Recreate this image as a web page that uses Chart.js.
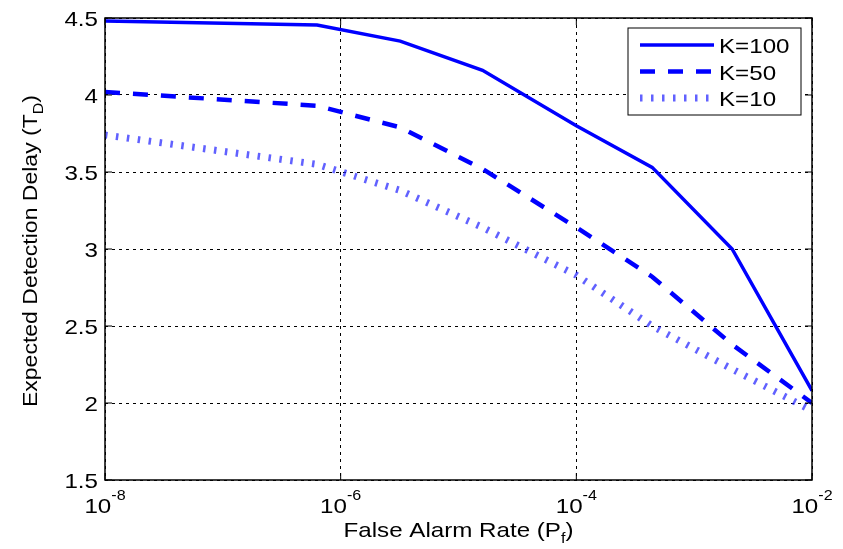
<!DOCTYPE html>
<html>
<head>
<meta charset="utf-8">
<script src="https://cdn.jsdelivr.net/npm/chart.js@4"></script>
<style>
  html, body { margin: 0; padding: 0; background: #fff; }
  #wrap { width: 843px; height: 549px; }
</style>
</head>
<body>
<div id="wrap"><canvas id="chartDelay"></canvas></div>
<script>
// values
const pfValues = [1e-8, 6.3e-7, 3.2e-6, 1.6e-5, 1e-4, 4.4e-4, 2.1e-3, 1e-2];
const delayK100 = [4.48, 4.455, 4.35, 4.16, 3.80, 3.53, 3.00, 2.08];
const delayK50 = [4.02, 3.93, 3.79, 3.52, 3.14, 2.82, 2.38, 2.00];
const delayK10 = [3.74, 3.55, 3.38, 3.14, 2.83, 2.50, 2.22, 1.95];
const xTickValues = [1e-8, 1e-6, 1e-4, 1e-2];
const xTickExps = ['-8', '-6', '-4', '-2'];
const yTickValues = [1.5, 2, 2.5, 3, 3.5, 4, 4.5];
const seriesLabels = ['K=100', 'K=50', 'K=10'];

const FONT = "'Liberation Sans', Arial, sans-serif";
const STRETCH = 1.15;   // text in the figure is a bit wider than Arial
const BIG = 21, SMALL = 14;

function toPoints(ys) {
    return pfValues.map((x, i) => ({ x: x, y: ys[i] }));
}

function textW(ctx, s, size) {
    ctx.font = size + 'px ' + FONT;
    return ctx.measureText(s).width * STRETCH;
}

// parts: [[text, size, yShift], ...] drawn left to right starting at x
function drawParts(ctx, parts, x, y) {
    parts.forEach(p => {
        ctx.save();
        ctx.translate(x, y + p[2]);
        ctx.scale(STRETCH, 1);
        ctx.font = p[1] + 'px ' + FONT;
        ctx.textAlign = 'left';
        ctx.fillText(p[0], 0, 0);
        ctx.restore();
        x += textW(ctx, p[0], p[1]);
    });
}

function partsWidth(ctx, parts) {
    return parts.reduce((s, p) => s + textW(ctx, p[0], p[1]), 0);
}

// frame, inward ticks, tick labels, axis titles, legend box
const matlabLook = {
    id: 'matlabLook',
    afterDraw(chart) {
        const ctx = chart.ctx;
        const a = chart.chartArea;
        const xs = chart.scales.x, ys = chart.scales.y;
        ctx.save();
        ctx.strokeStyle = '#000';
        ctx.lineWidth = 1.5;
        ctx.setLineDash([]);
        ctx.strokeRect(a.left, a.top, a.right - a.left, a.bottom - a.top);

        ctx.lineWidth = 1;
        ctx.beginPath();
        xTickValues.forEach(v => {
            const px = xs.getPixelForValue(v);
            ctx.moveTo(px, a.bottom); ctx.lineTo(px, a.bottom - 7);
            ctx.moveTo(px, a.top); ctx.lineTo(px, a.top + 7);
        });
        yTickValues.forEach(v => {
            const py = ys.getPixelForValue(v);
            ctx.moveTo(a.left, py); ctx.lineTo(a.left + 7, py);
            ctx.moveTo(a.right, py); ctx.lineTo(a.right - 7, py);
        });
        ctx.stroke();

        ctx.fillStyle = '#000';
        ctx.textBaseline = 'alphabetic';

        // y tick labels
        yTickValues.forEach(v => {
            const py = ys.getPixelForValue(v);
            const s = String(v);
            drawParts(ctx, [[s, BIG, 0]], a.left - 7 - textW(ctx, s, BIG), py + 8);
        });

        // x tick labels 10^n
        xTickValues.forEach((v, i) => {
            const px = xs.getPixelForValue(v);
            const parts = [['10', BIG, 0], [xTickExps[i], SMALL, -13]];
            drawParts(ctx, parts, px - partsWidth(ctx, parts) / 2, a.bottom + 33);
        });

        // x title: False Alarm Rate (P_f)
        const xt = [['False Alarm Rate (P', BIG, 0], ['f', SMALL, 6], [')', BIG, 0]];
        drawParts(ctx, xt, (a.left + a.right) / 2 - partsWidth(ctx, xt) / 2, a.bottom + 57);

        // y title: Expected Detection Delay (T_D)
        ctx.save();
        ctx.translate(37, (a.top + a.bottom) / 2 + 2);
        ctx.rotate(-Math.PI / 2);
        const yt = [['Expected Detection Delay (T', 20, 0], ['D', SMALL, 6], [')', 20, 0]];
        drawParts(ctx, yt, -partsWidth(ctx, yt) / 2, 0);
        ctx.restore();

        // legend
        const lx = 628, ly = 28, lw = 173, lh = 87;
        ctx.fillStyle = '#fff';
        ctx.fillRect(lx, ly, lw, lh);
        ctx.strokeStyle = '#000';
        ctx.lineWidth = 1;
        ctx.strokeRect(lx, ly, lw, lh);
        chart.data.datasets.forEach((ds, i) => {
            const rowY = ly + 17 + i * 26.5;
            ctx.save();
            ctx.strokeStyle = ds.borderColor;
            ctx.lineWidth = ds.borderWidth;
            ctx.setLineDash(ds.borderDash || []);
            ctx.beginPath();
            ctx.moveTo(lx + 12, rowY);
            ctx.lineTo(lx + 86, rowY);
            ctx.stroke();
            ctx.restore();
            ctx.fillStyle = '#000';
            drawParts(ctx, [[ds.label, BIG, 0]], lx + 91, rowY + 8);
        });
        ctx.restore();
    }
};

var ctx = document.getElementById('chartDelay').getContext('2d');
var chart = new Chart(ctx, {
    type: 'line',
    data: {
        datasets: [
            {
                label: seriesLabels[0],
                data: toPoints(delayK100),
                borderColor: '#0000ff',
                borderWidth: 3.5,
                pointRadius: 0,
                tension: 0
            },
            {
                label: seriesLabels[1],
                data: toPoints(delayK50),
                borderColor: '#0000ff',
                borderWidth: 4.5,
                borderDash: [15, 13],
                pointRadius: 0,
                tension: 0
            },
            {
                label: seriesLabels[2],
                data: toPoints(delayK10),
                borderColor: 'rgba(30, 30, 255, 0.7)',
                borderWidth: 7,
                borderDash: [2.5, 8.5],
                pointRadius: 0,
                tension: 0
            }
        ]
    },
    options: {
        responsive: true,
        maintainAspectRatio: false,
        animation: false,
        layout: { padding: { top: 18, right: 31, left: 0, bottom: 0 } },
        plugins: {
            legend: { display: false },
            tooltip: { enabled: false }
        },
        scales: {
            x: {
                type: 'logarithmic',
                min: 1e-8,
                max: 1e-2,
                afterBuildTicks: scale => {
                    scale.ticks = xTickValues.map(v => ({ value: v }));
                },
                afterFit: scale => { scale.height = 69; },
                ticks: { display: false },
                grid: { color: '#000', lineWidth: 1, drawTicks: false },
                border: { display: false, dash: [3, 4] }
            },
            y: {
                min: 1.5,
                max: 4.5,
                afterBuildTicks: scale => {
                    scale.ticks = yTickValues.map(v => ({ value: v }));
                },
                afterFit: scale => { scale.width = 105; },
                ticks: { display: false },
                grid: { color: '#000', lineWidth: 1, drawTicks: false },
                border: { display: false, dash: [3, 4] }
            }
        }
    },
    plugins: [matlabLook]
});
</script>
</body>
</html>
